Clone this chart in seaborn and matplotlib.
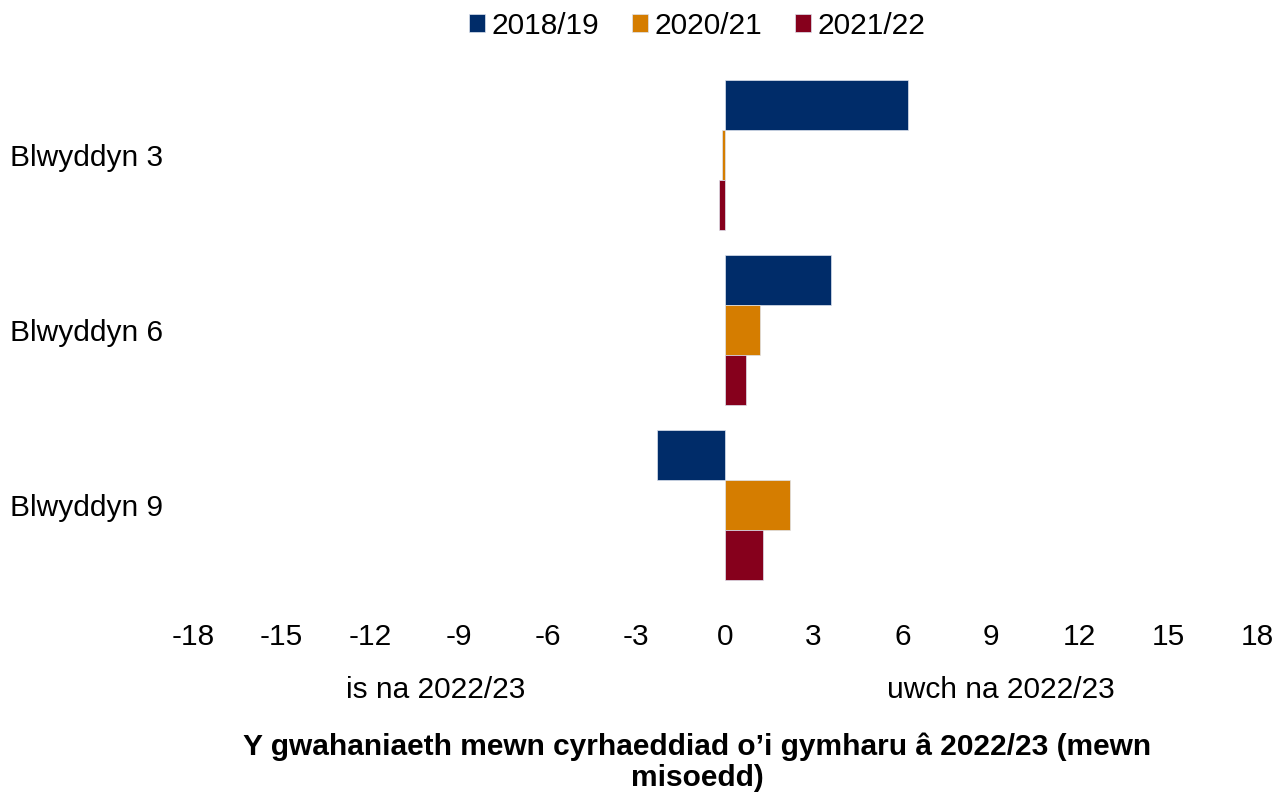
import pandas as pd
import matplotlib.pyplot as plt
import seaborn as sns

# values (months difference vs 2022/23)
years = ['Blwyddyn 3', 'Blwyddyn 6', 'Blwyddyn 9']
periods = ['2018/19', '2020/21', '2021/22']
v_1819 = [6.2, 3.6, -2.3]
v_2021 = [-0.1, 1.2, 2.2]
v_2122 = [-0.2, 0.7, 1.3]
colors = ['#002C69', '#D57D00', '#86001C']
xticks = list(range(-18, 19, 3))

rows = []
for p, vals in zip(periods, [v_1819, v_2021, v_2122]):
    for y, v in zip(years, vals):
        rows.append({'year': y, 'period': p, 'value': v})
df = pd.DataFrame(rows)

sns.set_style('white')
plt.rcParams['font.family'] = ['Liberation Sans', 'DejaVu Sans']
plt.rcParams['text.color'] = 'black'
plt.rcParams['xtick.color'] = 'black'
plt.rcParams['ytick.color'] = 'black'
fs = 21.5

fig = plt.figure(figsize=(12.87, 7.96), dpi=100)
W, H = 1287, 796
ax = fig.add_axes([193 / W, 1 - 592.5 / H, (1257 - 193) / W, (592.5 - 67.5) / H])

sns.barplot(data=df, y='year', x='value', hue='period', order=years,
            hue_order=periods, palette=colors, saturation=1, orient='h',
            width=0.86, edgecolor='#dde3ee', linewidth=0.5, ax=ax)

ax.set_xlim(-18, 18)
ax.set_xticks(xticks)
ax.set_xticklabels([str(t) for t in xticks], fontsize=fs)
ax.tick_params(axis='x', length=0, pad=22)
ax.tick_params(axis='y', length=0, pad=21.6, labelsize=fs)
ax.set_xlabel('')
ax.set_ylabel('')
for s in ax.spines.values():
    s.set_visible(False)

handles, labels = ax.get_legend_handles_labels()
ax.legend_.remove()
fig.legend(handles, labels, loc='center', bbox_to_anchor=(697 / W, 1 - 26 / H),
           ncol=3, frameon=False, fontsize=fs, handlelength=0.55,
           handleheight=0.55, handletextpad=0.2, columnspacing=1.1)

fig.text(436 / W, 1 - 690 / H, 'is na 2022/23', ha='center', va='center', fontsize=fs)
fig.text(1001 / W, 1 - 690 / H, 'uwch na 2022/23', ha='center', va='center', fontsize=fs)
fig.text(697 / W, 1 - 762 / H,
         'Y gwahaniaeth mewn cyrhaeddiad o’i gymharu â 2022/23 (mewn\nmisoedd)',
         ha='center', va='center', fontsize=fs, fontweight='bold', linespacing=1.15)

fig.savefig('out.png', dpi=100)
